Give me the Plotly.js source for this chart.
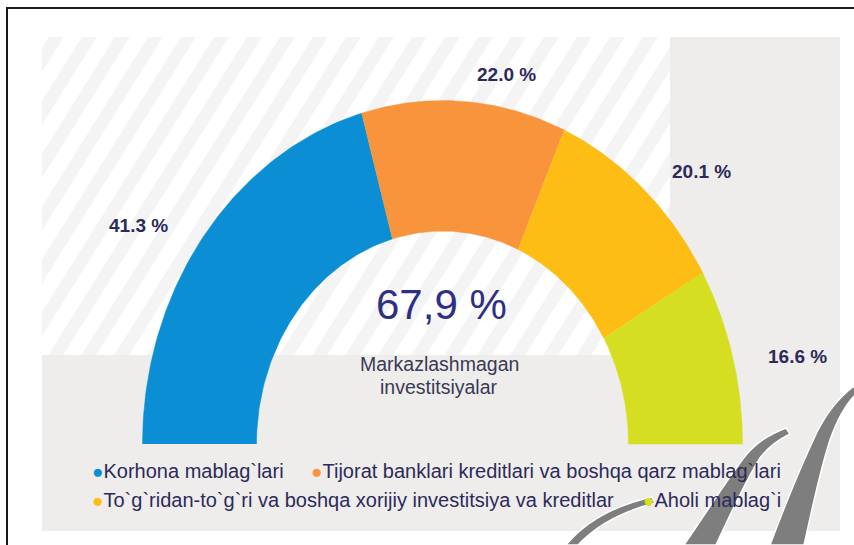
<!DOCTYPE html>
<html>
<head>
<meta charset="utf-8">
<script src="https://cdn.plot.ly/plotly-3.0.1.min.js"></script>
<style>
  html, body { margin: 0; padding: 0; background: #ffffff; }
  #chart { width: 854px; height: 545px; }
</style>
</head>
<body>
<div id="chart"></div>
<script>
// ---------------- data ----------------
const categories = [
  "Korhona mablag`lari",
  "Tijorat banklari kreditlari va boshqa qarz mablag`lari",
  "To`g`ridan-to`g`ri va boshqa xorijiy investitsiya va kreditlar",
  "Aholi mablag`i"
];
const shares = [41.3, 22.0, 20.1, 16.6];
const centerValue = "67,9 %";
const centerCaption = ["Markazlashmagan", "investitsiyalar"];

// ---------------- styles / layout ----------------
const colors = ["#0b8ed3", "#f7943c", "#fdbd14", "#d5de21"];
const W = 854, H = 545;
const FONT = "Liberation Sans, Arial, sans-serif";
const NAVY = "#2c2a5a";
const geo = { cx: 442.5, cy: 444, rOut: 300, rIn: 186, ky: 1.145 };
// value label anchor positions (pixels)
const labelPos = [[138, 225], [506, 74], [701, 171], [797, 356]];

// ---------------- arch segments from data ----------------
const total = shares.reduce((a, b) => a + b, 0);
const traces = [];
let cum = 0;
shares.forEach((v, i) => {
  const f0 = cum / total, f1 = (cum + v) / total;
  cum += v;
  const a0 = Math.PI * (1 - f0), a1 = Math.PI * (1 - f1);
  const n = 80;
  const xs = [], ys = [];
  for (let k = 0; k <= n; k++) {
    const a = a0 + (a1 - a0) * k / n;
    xs.push(geo.cx + geo.rOut * Math.cos(a));
    ys.push(geo.cy - geo.ky * geo.rOut * Math.sin(a));
  }
  for (let k = n; k >= 0; k--) {
    const a = a0 + (a1 - a0) * k / n;
    xs.push(geo.cx + geo.rIn * Math.cos(a));
    ys.push(geo.cy - geo.ky * geo.rIn * Math.sin(a));
  }
  traces.push({
    type: "scatter", mode: "lines", x: xs, y: ys,
    fill: "toself", fillcolor: colors[i],
    line: { width: 0.5, color: colors[i] },
    name: categories[i], showlegend: false, hoverinfo: "name"
  });
});

// ---------------- background shapes ----------------
const shapes = [];
shapes.push({ type: "rect", xref: "x", yref: "y", x0: 42, x1: 840, y0: 37, y1: 531,
  fillcolor: "#eeedeb", line: { width: 0 }, layer: "below" });
const hr = { x0: 42, x1: 670, y0: 37, y1: 355 };
shapes.push({ type: "rect", xref: "x", yref: "y", x0: hr.x0, x1: hr.x1, y0: hr.y0, y1: hr.y1,
  fillcolor: "#ffffff", line: { width: 0 }, layer: "below" });

function clipPoly(poly, r) {
  const edges = [
    p => p[0] >= r.x0, p => p[0] <= r.x1, p => p[1] >= r.y0, p => p[1] <= r.y1
  ];
  const inter = [
    (p, q) => { const t = (r.x0 - p[0]) / (q[0] - p[0]); return [r.x0, p[1] + t * (q[1] - p[1])]; },
    (p, q) => { const t = (r.x1 - p[0]) / (q[0] - p[0]); return [r.x1, p[1] + t * (q[1] - p[1])]; },
    (p, q) => { const t = (r.y0 - p[1]) / (q[1] - p[1]); return [p[0] + t * (q[0] - p[0]), r.y0]; },
    (p, q) => { const t = (r.y1 - p[1]) / (q[1] - p[1]); return [p[0] + t * (q[0] - p[0]), r.y1]; }
  ];
  let out = poly;
  for (let e = 0; e < 4; e++) {
    const inp = out; out = [];
    for (let i = 0; i < inp.length; i++) {
      const cur = inp[i], prev = inp[(i + inp.length - 1) % inp.length];
      const ci = edges[e](cur), pi = edges[e](prev);
      if (ci) { if (!pi) out.push(inter[e](prev, cur)); out.push(cur); }
      else if (pi) out.push(inter[e](prev, cur));
    }
    if (!out.length) break;
  }
  return out;
}
const k = 1 / Math.tan(58 * Math.PI / 180);
const period = 33, sw = 15;
for (let c = hr.x0 - 300; c < hr.x1 + 300; c += period) {
  const yA = hr.y0 - 5, yB = hr.y1 + 5;
  const poly = [[c - k * yA, yA], [c + sw - k * yA, yA], [c + sw - k * yB, yB], [c - k * yB, yB]];
  const cp = clipPoly(poly, hr);
  if (cp.length >= 3) {
    const path = "M" + cp.map(p => p[0].toFixed(2) + "," + p[1].toFixed(2)).join("L") + "Z";
    shapes.push({ type: "path", xref: "x", yref: "y", path: path,
      fillcolor: "#f4f4f4", line: { width: 0 }, layer: "below" });
  }
}
// frame lines (top and left)
shapes.push({ type: "line", xref: "x", yref: "y", x0: 6, x1: 854, y0: 8, y1: 8,
  line: { color: "#1a1a1a", width: 2 }, layer: "above" });
shapes.push({ type: "line", xref: "x", yref: "y", x0: 7, x1: 7, y0: 8, y1: 545,
  line: { color: "#1a1a1a", width: 2 }, layer: "above" });
// scan watermark strokes
const wm = [
  "M566,545 C585,522 612,506 652,497 L655,503 C620,512 594,528 578,545 Z",
  "M684,545 L716,545 C730,515 745,482 760,458 C768,447 778,440 790,434 L786,428 C770,434 755,444 746,455 C725,482 705,515 684,545 Z",
  "M770,545 L804,545 C812,510 820,470 830,440 C837,420 845,405 856,394 L854,386 C838,398 826,414 817,432 C800,468 785,505 770,545 Z"
];
wm.forEach(p => shapes.push({ type: "path", xref: "x", yref: "y", path: p,
  fillcolor: "#7e7e7e", line: { color: "#ffffff", width: 1.5 }, layer: "above" }));

// ---------------- annotations ----------------
const annotations = [];
shares.forEach((v, i) => {
  annotations.push({ xref: "x", yref: "y", x: labelPos[i][0], y: labelPos[i][1],
    text: "<b>" + v.toFixed(1) + " %</b>", showarrow: false,
    font: { family: FONT, size: 19, color: NAVY }, xanchor: "center", yanchor: "middle" });
});
annotations.push({ xref: "x", yref: "y", x: 441, y: 304, text: centerValue, showarrow: false,
  font: { family: FONT, size: 42, color: "#2e2f85" }, xanchor: "center", yanchor: "middle" });
centerCaption.forEach((t, i) => annotations.push({ xref: "x", yref: "y", x: 439, y: 364 + i * 23,
  text: t, showarrow: false, font: { family: FONT, size: 19.5, color: "#3a3a55" },
  xanchor: "center", yanchor: "middle" }));
const legendPos = [[90, 471], [309, 471], [90, 500], [641, 500]];
categories.forEach((c, i) => annotations.push({ xref: "x", yref: "y",
  x: legendPos[i][0], y: legendPos[i][1],
  text: '<span style="color:' + colors[i] + ';font-size:19px">●</span>' + c,
  showarrow: false, font: { family: FONT, size: 20, color: NAVY },
  xanchor: "left", yanchor: "middle" }));

const layout = {
  width: W, height: H,
  margin: { l: 0, r: 0, t: 0, b: 0, pad: 0 },
  paper_bgcolor: "#ffffff", plot_bgcolor: "rgba(0,0,0,0)",
  xaxis: { range: [0, W], visible: false, fixedrange: true },
  yaxis: { range: [H, 0], visible: false, fixedrange: true },
  showlegend: false, shapes: shapes, annotations: annotations,
  font: { family: FONT }
};
Plotly.newPlot("chart", traces, layout, { staticPlot: true, displayModeBar: false });
</script>
</body>
</html>
